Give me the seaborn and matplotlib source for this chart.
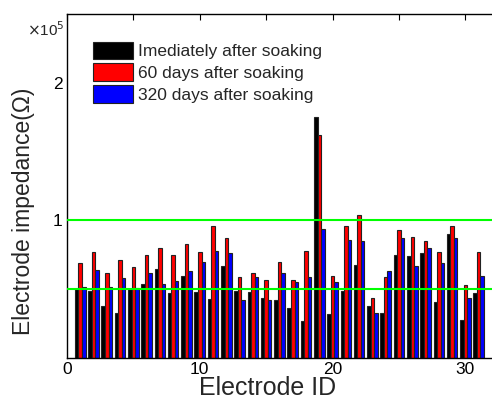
import matplotlib
matplotlib.use("Agg")
import matplotlib.pyplot as plt
import seaborn as sns
import pandas as pd
import numpy as np

electrode_ids = list(range(1, 32))
immediate = [0.50, 0.49, 0.38, 0.33, 0.505, 0.54, 0.65, 0.47, 0.60, 0.48,
             0.43, 0.67, 0.49, 0.48, 0.44, 0.42, 0.365, 0.27, 1.75, 0.32,
             0.49, 0.68, 0.38, 0.33, 0.75, 0.74, 0.76, 0.41, 0.905, 0.28, 0.47]
days60 = [0.69, 0.77, 0.62, 0.71, 0.66, 0.75, 0.80, 0.75, 0.83, 0.77,
          0.96, 0.87, 0.59, 0.62, 0.565, 0.70, 0.57, 0.775, 1.62, 0.60,
          0.96, 1.04, 0.44, 0.59, 0.93, 0.88, 0.85, 0.77, 0.96, 0.53, 0.77]
days320 = [0.52, 0.64, 0.52, 0.58, 0.51, 0.62, 0.54, 0.56, 0.63, 0.70,
           0.775, 0.76, 0.42, 0.59, 0.425, 0.62, 0.55, 0.59, 0.94, 0.55,
           0.86, 0.85, 0.33, 0.63, 0.87, 0.67, 0.80, 0.69, 0.87, 0.44, 0.60]
series_names = ["Imediately after soaking", "60 days after soaking", "320 days after soaking"]
series_colors = ["#000000", "#ff0000", "#0000ff"]
threshold_lines = [0.5, 1.0]
xtick_labels = ["0", "", "10", "", "20", "", "30"]
ytick_labels = ["", "", "1", "", "2", ""]

df = pd.DataFrame({
    "id": electrode_ids * 3,
    "value": immediate + days60 + days320,
    "series": [series_names[0]] * 31 + [series_names[1]] * 31 + [series_names[2]] * 31,
})

sns.set_style("white")
plt.rcParams["font.family"] = ["Liberation Sans", "DejaVu Sans"]

fig = plt.figure(figsize=(4.92, 4.01), dpi=100)
ax = fig.add_axes([0.136, 0.107, 0.864, 0.858])

sns.barplot(data=df, x="id", y="value", hue="series", hue_order=series_names,
            palette=series_colors, native_scale=True, width=0.8, dodge=True,
            edgecolor="#222222", linewidth=0.8, saturation=1, ax=ax, errorbar=None)

for yv in threshold_lines:
    ax.axhline(yv, color="#00ff00", linewidth=1.5, zorder=5)

ax.set_xlim(0, 32)
ax.set_ylim(0, 2.5)
ax.set_xticks(np.arange(0, 31, 5))
ax.set_xticklabels(xtick_labels)
ax.set_yticks(np.arange(0, 2.51, 0.5))
ax.set_yticklabels(ytick_labels)
ax.tick_params(direction="in", length=4, width=0.8, top=True, right=False,
               labelsize=12.5, pad=3, colors="black")
for s in ["left", "bottom", "top"]:
    ax.spines[s].set_color("black")
    ax.spines[s].set_linewidth(1.0)
ax.spines["right"].set_visible(False)

ax.set_xlabel("Electrode ID", fontsize=18, labelpad=-1)
ax.xaxis.label.set_x(0.473)
ax.set_ylabel("Electrode impedance(Ω)", fontsize=16.5, labelpad=13)
ax.yaxis.label.set_y(0.427)
ax.text(-0.005, 0.955, r"$\times$10$^5$", transform=ax.transAxes, ha="right",
        va="center", fontsize=11)

ax.legend(loc="upper left", bbox_to_anchor=(0.045, 0.94), frameon=False,
          fontsize=12.5, handlelength=2.3, handleheight=1.2, labelspacing=0.22,
          handletextpad=0.3, borderaxespad=0)

fig.savefig("out.png", dpi=100)
